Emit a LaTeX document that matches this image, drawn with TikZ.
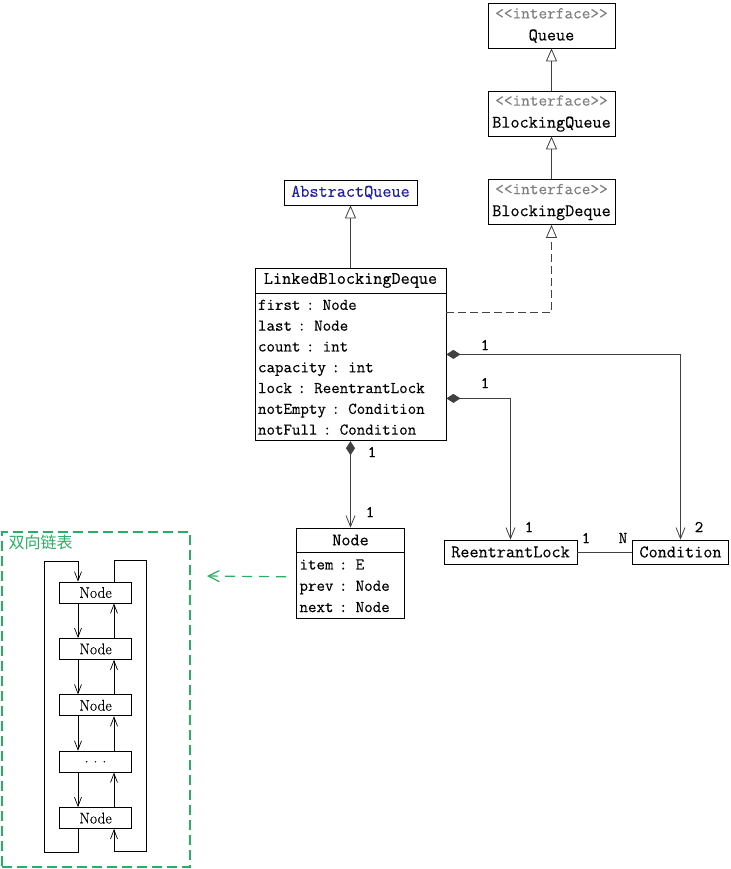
\documentclass[tikz,border=0pt]{standalone}
\usepackage{fontspec}
\usetikzlibrary{arrows.meta}
\newfontfamily\umlfont[FakeBold=0.3]{Latin Modern Mono}
\newfontfamily\listfont[FakeBold=0.3]{Latin Modern Roman}
\newfontfamily\cjkfont{Noto Sans CJK SC}
\newcommand\namefont{\umlfont\fontsize{17.7}{22}\selectfont}
\newcommand\attrfont{\umlfont\fontsize{16.5}{20.8}\selectfont}
\newcommand\ifacetag{\textcolor{gray}{\fontsize{16.8}{22}\selectfont <{}<interface>{}>}}
\definecolor{listgreen}{RGB}{40,175,100}
\definecolor{absblue}{RGB}{30,30,170}
\tikzset{
  umlline/.style={line width=0.8pt, draw=black!75},
  classbox/.style={draw, line width=0.8pt, inner sep=0pt, font=\namefont},
  ifacebox/.style={classbox, align=center, minimum width=127pt, minimum height=45pt},
  attrbox/.style={draw, line width=0.8pt, anchor=north, align=left, inner sep=3pt, font=\attrfont},
  inherit/.style={umlline, -{Triangle[open, fill=white, length=13pt, width=11pt]}},
  realize/.style={inherit, dash pattern=on 8pt off 4pt},
  compose/.style={umlline, {Diamond[length=14pt, width=9pt]}-{Straight Barb[length=11pt, width=9pt]}},
  mult/.style={font=\attrfont, inner sep=0pt},
  lnode/.style={draw, line width=0.8pt, minimum width=72pt, minimum height=21pt, inner sep=0pt, font=\listfont\fontsize{15.5}{15.5}\selectfont},
  lptr/.style={line width=0.7pt, -{Straight Barb[length=9pt, width=7pt]}},
  listframe/.style={draw=listgreen, line width=1.3pt, dash pattern=on 10pt off 5pt, minimum width=188pt, minimum height=335pt, inner sep=0pt},
  listlink/.style={draw=listgreen, line width=1.2pt, dash pattern=on 10pt off 7pt, -{Straight Barb[length=11pt, width=11pt]}}
}
\begin{document}
\begin{tikzpicture}[x=1pt,y=-1pt]
  \useasboundingbox (0,0) rectangle (730,869);
  % interfaces
  \node[ifacebox] (queue) at (551.5,25.5) {\ifacetag\\Queue};
  \node[ifacebox] (bqueue) at (551.5,113.5) {\ifacetag\\BlockingQueue};
  \node[ifacebox] (bdeque) at (551.5,202) {\ifacetag\\BlockingDeque};
  \draw[inherit] (bqueue.north) -- (queue.south);
  \draw[inherit] (bdeque.north) -- (bqueue.south);
  % classes
  \node[classbox, minimum width=133pt, minimum height=25pt, text=absblue] (absqueue) at (350.5,192.5) {AbstractQueue};
  \node[classbox, minimum width=191pt, minimum height=25pt] (lbdh) at (350.5,280.5) {LinkedBlockingDeque};
  \node[attrbox, text width=185pt, minimum height=147pt] (lbdb) at (lbdh.south)
    {first : Node\\last : Node\\count : int\\capacity : int\\lock : ReentrantLock\\notEmpty : Condition\\notFull : Condition};
  \node[classbox, minimum width=108pt, minimum height=24pt] (nodeh) at (350.5,540) {Node};
  \node[attrbox, text width=102pt, minimum height=66pt, font=\umlfont\fontsize{16.5}{21.3}\selectfont] (nodeb) at (nodeh.south)
    {item : E\\prev : Node\\next : Node};
  \node[classbox, minimum width=133pt, minimum height=24pt] (rlock) at (510.5,552) {ReentrantLock};
  \node[classbox, minimum width=96pt, minimum height=24pt] (cond) at (680.5,552) {Condition};
  % connectors
  \draw[inherit] (lbdh.north) -- (absqueue.south);
  \draw[realize] (lbdb.north east) ++(0,19) -| (bdeque.south);
  \draw[compose] (lbdb.north east) ++(0,61) -| (cond.north);
  \draw[compose] (lbdb.north east) ++(0,105) -| (rlock.north);
  \draw[compose] (lbdb.south) -- (nodeh.north);
  \draw[umlline] (rlock.east) -- (cond.west);
  \node[mult] (m1) at (485,345) {1};
  \node[mult] (m2) at (485,383) {1};
  \node[mult] (m3) at (529,527) {1};
  \node[mult] (m4) at (699,527) {2};
  \node[mult] (m5) at (586,538) {1};
  \node[mult] (m6) at (623,538) {N};
  \node[mult] (m7) at (372,452) {1};
  \node[mult] (m8) at (370,512) {1};
  % linked list
  \node[listframe] (frame) at (96,699.5) {};
  \node[anchor=north west, text=listgreen, inner sep=0pt, font=\cjkfont\fontsize{16}{16}\selectfont] (listtitle)
    at ([xshift=7pt,yshift=-3pt]frame.north west) {双向链表};
  \coordinate (listin) at (207,576);
  \draw[listlink] ([xshift=-10pt,yshift=9pt]nodeb.west) -- (listin);
  \foreach \i/\t in {1/Node,2/Node,3/Node,4/{.\hspace{5pt}.\hspace{5pt}.},5/Node}
    \node[lnode] (ln\i) at (95.5,{592.5+56.4*(\i-1)}) {\t};
  \foreach \i [evaluate=\i as \j using int(\i+1)] in {1,...,4} {
    \draw[lptr] ([xshift=-17.5pt]ln\i.south) -- ([xshift=-17.5pt]ln\j.north);
    \draw[lptr] ([xshift=18.5pt]ln\j.north) -- ([xshift=18.5pt]ln\i.south);
  }
  \draw[lptr] ([xshift=-17.5pt]ln5.south) -- ++(0,23) -- ++(-34,0) -- ++(0,-291) -| ([xshift=-17.5pt]ln1.north);
  \draw[lptr] ([xshift=18.5pt]ln1.north) -- ++(0,-21) -- ++(32,0) -- ++(0,291) -| ([xshift=18.5pt]ln5.south);
\end{tikzpicture}
\end{document}
